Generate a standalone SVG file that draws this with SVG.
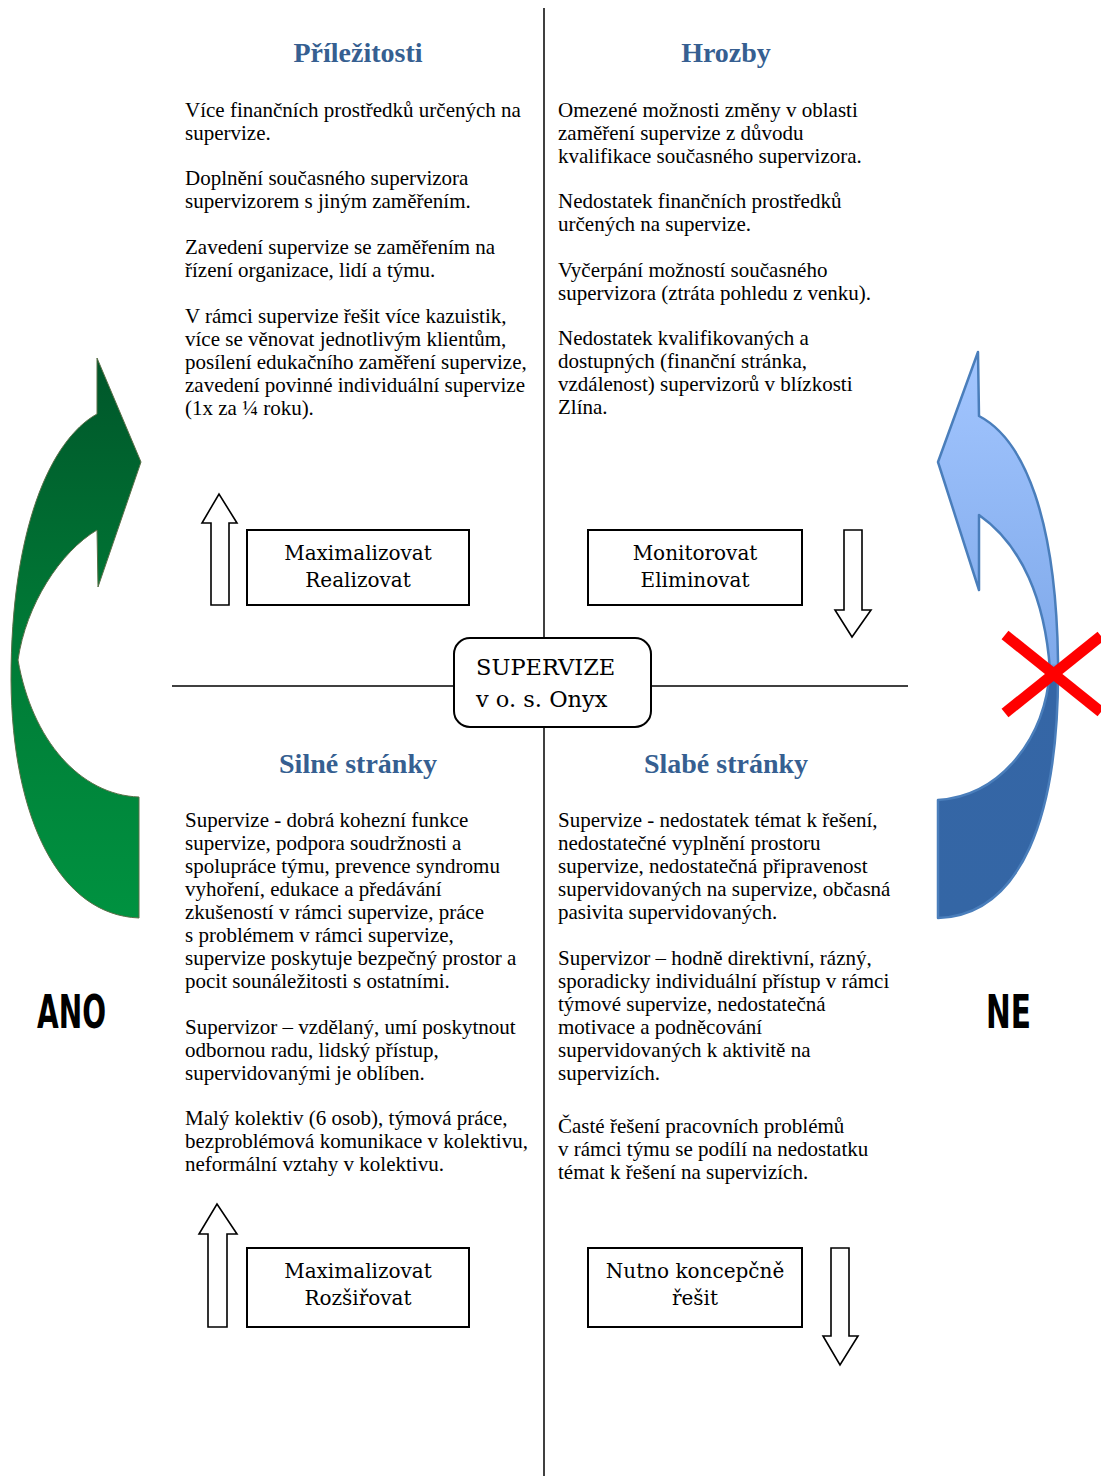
<svg xmlns="http://www.w3.org/2000/svg" width="1101" height="1476" viewBox="0 0 1101 1476">
<style>
.h{font-family:"Liberation Serif","Times New Roman",serif;font-weight:bold;font-size:28px;fill:#365F91;text-anchor:middle}
.t{font-family:"Liberation Serif","Times New Roman",serif;font-size:21px;fill:#000}
.b{font-family:"DejaVu Serif",serif;font-size:20px;fill:#000;text-anchor:middle}
.c{font-family:"DejaVu Serif",serif;font-size:22.5px;fill:#000}
.box{fill:#fff;stroke:#000;stroke-width:2}
.ax{stroke:#000;stroke-width:1.5;fill:none}
.sa{fill:#fff;stroke:#000;stroke-width:1.6;stroke-linejoin:miter}
.big{font-family:"Liberation Sans Narrow","DejaVu Sans Condensed","Liberation Sans",sans-serif;font-weight:bold;font-size:46px;fill:#000}
</style>
<defs>
<linearGradient id="gg" x1="0" y1="358" x2="0" y2="918" gradientUnits="userSpaceOnUse">
<stop offset="0" stop-color="#00562A"/>
<stop offset="0.5" stop-color="#007A36"/>
<stop offset="1" stop-color="#009240"/>
</linearGradient>
<linearGradient id="bg" x1="0" y1="352" x2="0" y2="918" gradientUnits="userSpaceOnUse">
<stop offset="0" stop-color="#A3C6FF"/>
<stop offset="0.55" stop-color="#7FA9EA"/>
<stop offset="0.565" stop-color="#3566A6"/>
<stop offset="1" stop-color="#3466A5"/>
</linearGradient>
</defs>
<rect width="1101" height="1476" fill="#fff"/>

<g id="connectors">
<line class="ax" x1="544" y1="8" x2="544" y2="1476"/>
<line class="ax" x1="172" y1="686" x2="908" y2="686"/>
</g>

<g id="arrow-ano">
<path d="M 97,358 L 141,462 L 98,587 L 97,530 C 60,552 26,605 18,660 C 32,740 80,795 139,797 L 139,918 C 60,915 12,820 11,680 C 11,530 50,440 97,414 Z" fill="url(#gg)" stroke="#5b6f48" stroke-width="1"/>
</g>
<g id="arrow-ne">
<path d="M 978,352 L 979,416 C 1025,440 1056,520 1058,660 C 1060,820 1020,915 938,918 L 938,800 C 1000,796 1045,740 1050,670 C 1045,600 1022,545 979,515 L 979,590 L 938,462 Z" fill="url(#bg)" stroke="#4A7EBB" stroke-width="2.5" stroke-linejoin="round"/>
</g>
<g id="cross">
<line x1="1005" y1="635" x2="1101" y2="712" stroke="#FF0000" stroke-width="11"/>
<line x1="1005" y1="713" x2="1101" y2="636" stroke="#FF0000" stroke-width="11"/>
</g>

<g id="label-ano"><text class="big" x="37" y="1028" textLength="69" lengthAdjust="spacingAndGlyphs">ANO</text></g>
<g id="label-ne"><text class="big" x="986" y="1028" textLength="45" lengthAdjust="spacingAndGlyphs">NE</text></g>

<g id="prilezitosti">
<text class="h" x="358" y="62">Příležitosti</text>
<text class="t" x="185" y="117">Více finančních prostředků určených na</text>
<text class="t" x="185" y="140">supervize.</text>
<text class="t" x="185" y="185">Doplnění současného supervizora</text>
<text class="t" x="185" y="208">supervizorem s jiným zaměřením.</text>
<text class="t" x="185" y="254">Zavedení supervize se zaměřením na</text>
<text class="t" x="185" y="277">řízení organizace, lidí a týmu.</text>
<text class="t" x="185" y="323">V rámci supervize řešit více kazuistik,</text>
<text class="t" x="185" y="346">více se věnovat jednotlivým klientům,</text>
<text class="t" x="185" y="369">posílení edukačního zaměření supervize,</text>
<text class="t" x="185" y="392">zavedení povinné individuální supervize</text>
<text class="t" x="185" y="415">(1x za ¼ roku).</text>
</g>

<g id="hrozby">
<text class="h" x="726" y="62">Hrozby</text>
<text class="t" x="558" y="117">Omezené možnosti změny v oblasti</text>
<text class="t" x="558" y="140">zaměření supervize z důvodu</text>
<text class="t" x="558" y="163">kvalifikace současného supervizora.</text>
<text class="t" x="558" y="208">Nedostatek finančních prostředků</text>
<text class="t" x="558" y="231">určených na supervize.</text>
<text class="t" x="558" y="277">Vyčerpání možností současného</text>
<text class="t" x="558" y="300">supervizora (ztráta pohledu z venku).</text>
<text class="t" x="558" y="345">Nedostatek kvalifikovaných a</text>
<text class="t" x="558" y="368">dostupných (finanční stránka,</text>
<text class="t" x="558" y="391">vzdálenost) supervizorů v blízkosti</text>
<text class="t" x="558" y="414">Zlína.</text>
</g>

<g id="silne-stranky">
<text class="h" x="358" y="773">Silné stránky</text>
<text class="t" x="185" y="827">Supervize - dobrá kohezní funkce</text>
<text class="t" x="185" y="850">supervize, podpora soudržnosti a</text>
<text class="t" x="185" y="873">spolupráce týmu, prevence syndromu</text>
<text class="t" x="185" y="896">vyhoření, edukace a předávání</text>
<text class="t" x="185" y="919">zkušeností v rámci supervize, práce</text>
<text class="t" x="185" y="942">s problémem v rámci supervize,</text>
<text class="t" x="185" y="965">supervize poskytuje bezpečný prostor a</text>
<text class="t" x="185" y="988">pocit sounáležitosti s ostatními.</text>
<text class="t" x="185" y="1034">Supervizor – vzdělaný, umí poskytnout</text>
<text class="t" x="185" y="1057">odbornou radu, lidský přístup,</text>
<text class="t" x="185" y="1080">supervidovanými je oblíben.</text>
<text class="t" x="185" y="1125">Malý kolektiv (6 osob), týmová práce,</text>
<text class="t" x="185" y="1148">bezproblémová komunikace v kolektivu,</text>
<text class="t" x="185" y="1171">neformální vztahy v kolektivu.</text>
</g>

<g id="slabe-stranky">
<text class="h" x="726" y="773">Slabé stránky</text>
<text class="t" x="558" y="827">Supervize - nedostatek témat k řešení,</text>
<text class="t" x="558" y="850">nedostatečné vyplnění prostoru</text>
<text class="t" x="558" y="873">supervize, nedostatečná připravenost</text>
<text class="t" x="558" y="896">supervidovaných na supervize, občasná</text>
<text class="t" x="558" y="919">pasivita supervidovaných.</text>
<text class="t" x="558" y="965">Supervizor – hodně direktivní, rázný,</text>
<text class="t" x="558" y="988">sporadicky individuální přístup v rámci</text>
<text class="t" x="558" y="1011">týmové supervize, nedostatečná</text>
<text class="t" x="558" y="1034">motivace a podněcování</text>
<text class="t" x="558" y="1057">supervidovaných k aktivitě na</text>
<text class="t" x="558" y="1080">supervizích.</text>
<text class="t" x="558" y="1133">Časté řešení pracovních problémů</text>
<text class="t" x="558" y="1156">v rámci týmu se podílí na nedostatku</text>
<text class="t" x="558" y="1179">témat k řešení na supervizích.</text>
</g>

<g id="supervize">
<rect class="box" x="454" y="638" width="197" height="89" rx="16"/>
<text class="c" x="476" y="675">SUPERVIZE</text>
<text class="c" x="476" y="707">v o. s. Onyx</text>
</g>

<g id="box-realizovat">
<rect class="box" x="247" y="530" width="222" height="75"/>
<text class="b" x="358" y="560">Maximalizovat</text>
<text class="b" x="358" y="587">Realizovat</text>
</g>
<g id="box-eliminovat">
<rect class="box" x="588" y="530" width="214" height="75"/>
<text class="b" x="695" y="560">Monitorovat</text>
<text class="b" x="695" y="587">Eliminovat</text>
</g>
<g id="box-rozsirovat">
<rect class="box" x="247" y="1248" width="222" height="79"/>
<text class="b" x="358" y="1278">Maximalizovat</text>
<text class="b" x="358" y="1305">Rozšiřovat</text>
</g>
<g id="box-koncepcne">
<rect class="box" x="588" y="1248" width="214" height="79"/>
<text class="b" x="695" y="1278">Nutno koncepčně</text>
<text class="b" x="695" y="1305">řešit</text>
</g>

<g id="arrow-up-1"><path class="sa" d="M 211,605 L 211,523 L 202,523 L 219,494 L 237,523 L 229,523 L 229,605 Z"/></g>
<g id="arrow-down-1"><path class="sa" d="M 844,530 L 862,530 L 862,610 L 871,610 L 852,637 L 835,610 L 844,610 Z"/></g>
<g id="arrow-up-2"><path class="sa" d="M 208,1327 L 208,1234 L 199,1234 L 217,1204 L 237,1234 L 227,1234 L 227,1327 Z"/></g>
<g id="arrow-down-2"><path class="sa" d="M 831,1248 L 849,1248 L 849,1336 L 858,1336 L 840,1365 L 823,1336 L 831,1336 Z"/></g>
</svg>
